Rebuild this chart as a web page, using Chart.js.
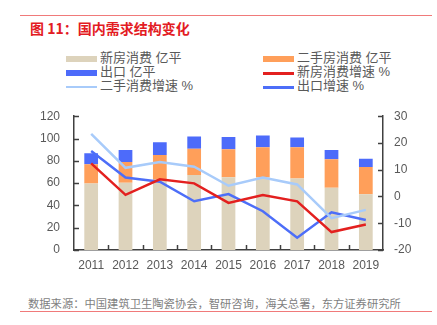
<!DOCTYPE html>
<html>
<head>
<meta charset="utf-8">
<script src="https://cdn.jsdelivr.net/npm/chart.js@4"></script>
<style>
  body { margin: 0; width: 437px; height: 325px; background: #fff; position: relative; overflow: hidden;
         font-family: 'Liberation Sans', 'Noto Sans CJK SC', sans-serif; }
  .rule { position: absolute; left: 20px; width: 412px; height: 1px; background: #f07a7a; }
  #title { position: absolute; left: 30px; top: 18px; font-size: 14px; font-weight: bold; color: #e31b23;
           font-family: 'Noto Sans CJK SC', sans-serif; white-space: nowrap; }
  #legend { position: absolute; left: 66px; top: 51px; width: 370px; }
  .item { position: absolute; height: 14px; font-size: 13px; color: #595959; white-space: nowrap;
          font-family: 'Liberation Sans', 'Noto Sans CJK SC', sans-serif; line-height: 14px; }
  .sw { position: absolute; left: 0; width: 31px; }
  .item span.txt { position: absolute; left: 34px; top: 0; }
  #source { position: absolute; left: 28px; top: 295px; font-size: 11.3px; color: #7f7f7f; white-space: nowrap;
            font-family: 'Noto Sans CJK SC', sans-serif; }
  #wrap { position: absolute; left: 0; top: 95px; width: 437px; height: 190px; }
</style>
</head>
<body>
<div class="rule" style="top:15px"></div>
<div id="title">图 11：国内需求结构变化</div>
<div id="legend"></div>
<div id="wrap"><canvas id="chart"></canvas></div>
<div id="source">数据来源：中国建筑卫生陶瓷协会，智研咨询，海关总署，东方证券研究所</div>
<div class="rule" style="top:311px"></div>

<script>
const years = ['2011', '2012', '2013', '2014', '2015', '2016', '2017', '2018', '2019'];

// 亿平 (left axis, stacked bars)
const newHousing = [59.7, 60.3, 63, 67.2, 65.3, 65.2, 64.2, 55.8, 50];
const secondHand = [17.2, 18.6, 22.3, 23.6, 25, 27, 28, 25.6, 24.4];
const exportVol = [9.8, 10.8, 11.4, 11.1, 11.1, 10.6, 8.6, 8.3, 7.5];

// % (right axis, lines)
const newGrowth = [12.4, 0.6, 6.4, 4.9, -2.4, 0.5, -1.8, -13.3, -10.5];
const secondGrowth = [23.4, 10.7, 12.9, 11.1, 4, 7.1, 4.5, -8.1, -5];
const exportGrowth = [17, 7.1, 5.5, -1.8, 0.9, -5.5, -15.4, -5.9, -8.8];

const leftTicks = [0, 20, 40, 60, 80, 100, 120];
const rightTicks = [-20, -10, 0, 10, 20, 30];

const axisColor = '#404040';
const tickColor = '#595959';

Chart.defaults.font.family = "'Liberation Sans', 'Noto Sans CJK SC', sans-serif";
Chart.defaults.font.size = 12;
Chart.defaults.color = tickColor;

const datasets = [
    { type: 'bar', label: '新房消费 亿平', data: newHousing, backgroundColor: '#ddd3bc', yAxisID: 'y', stack: 's', order: 1 },
    { type: 'bar', label: '二手房消费 亿平', data: secondHand, backgroundColor: '#ff9f5a', yAxisID: 'y', stack: 's', order: 1 },
    { type: 'bar', label: '出口 亿平', data: exportVol, backgroundColor: '#4d6bfa', yAxisID: 'y', stack: 's', order: 1 },
    { type: 'line', label: '新房消费增速 %', data: newGrowth, borderColor: '#e3201f', yAxisID: 'y1', order: 0 },
    { type: 'line', label: '二手消费增速 %', data: secondGrowth, borderColor: '#a8cbfa', yAxisID: 'y1', order: 0 },
    { type: 'line', label: '出口增速 %', data: exportGrowth, borderColor: '#4d6ef8', yAxisID: 'y1', order: 0 }
];
datasets.forEach(d => {
    if (d.type === 'bar') {
        d.barPercentage = 0.4;
        d.categoryPercentage = 1;
        d.borderWidth = 0;
    } else {
        d.borderWidth = 2.5;
        d.pointRadius = 0;
        d.tension = 0;
        d.fill = false;
    }
});

// legend, two columns, row by row
const legend = document.getElementById('legend');
datasets.forEach((d, i) => {
    const col = i % 2, row = Math.floor(i / 2);
    const item = document.createElement('div');
    item.className = 'item';
    item.style.left = (col * 197) + 'px';
    item.style.top = (row * 14) + 'px';
    const sw = document.createElement('div');
    sw.className = 'sw';
    let h = d.type === 'bar' ? 6 : (i === 4 ? 2 : 3);
    sw.style.height = h + 'px';
    sw.style.top = (8 - h / 2) + 'px';
    sw.style.background = d.type === 'bar' ? d.backgroundColor : d.borderColor;
    const txt = document.createElement('span');
    txt.className = 'txt';
    txt.textContent = d.label;
    item.appendChild(sw);
    item.appendChild(txt);
    legend.appendChild(item);
});

// small tick marks pointing into the plot
const innerTicks = {
    id: 'innerTicks',
    afterDraw(chart) {
        const { ctx, chartArea: a, scales } = chart;
        ctx.save();
        ctx.strokeStyle = axisColor;
        ctx.lineWidth = 1.5;
        ctx.beginPath();
        leftTicks.forEach(v => {
            const y = Math.round(scales.y.getPixelForValue(v)) + 0.5;
            ctx.moveTo(a.left, y); ctx.lineTo(a.left + 5, y);
        });
        rightTicks.forEach(v => {
            const y = Math.round(scales.y1.getPixelForValue(v)) + 0.5;
            ctx.moveTo(a.right, y); ctx.lineTo(a.right - 5, y);
        });
        for (let i = 0; i < years.length - 1; i++) {
            const x = Math.round((scales.x.getPixelForTick(i) + scales.x.getPixelForTick(i + 1)) / 2) + 0.5;
            ctx.moveTo(x, a.bottom); ctx.lineTo(x, a.bottom - 5);
        }
        ctx.stroke();
        ctx.restore();
    }
};

new Chart(document.getElementById('chart'), {
    data: { labels: years, datasets },
    options: {
        responsive: true,
        maintainAspectRatio: false,
        animation: false,
        layout: { padding: { top: 11, left: 0, right: 0, bottom: 0 } },
        plugins: { legend: { display: false }, tooltip: { enabled: false } },
        scales: {
            x: {
                stacked: true,
                grid: { display: false, drawTicks: false },
                border: { display: true, color: axisColor, width: 1.5 },
                ticks: { padding: 8, color: tickColor, font: { size: 12 } },
                afterFit(s) { s.height = 35; }
            },
            y: {
                position: 'left',
                stacked: true,
                min: 0, max: 120,
                grid: { display: false, drawTicks: false },
                border: { display: true, color: axisColor, width: 1.5 },
                ticks: { stepSize: 20, padding: 14, color: tickColor, font: { size: 12 } },
                afterFit(s) { s.width = 74; }
            },
            y1: {
                position: 'right',
                stacked: false,
                min: -20, max: 30,
                grid: { display: false, drawTicks: false },
                border: { display: true, color: axisColor, width: 1.5 },
                ticks: { stepSize: 10, padding: 11, color: tickColor, font: { size: 12 } },
                afterFit(s) { s.width = 54; }
            }
        }
    },
    plugins: [innerTicks]
});
</script>
</body>
</html>
